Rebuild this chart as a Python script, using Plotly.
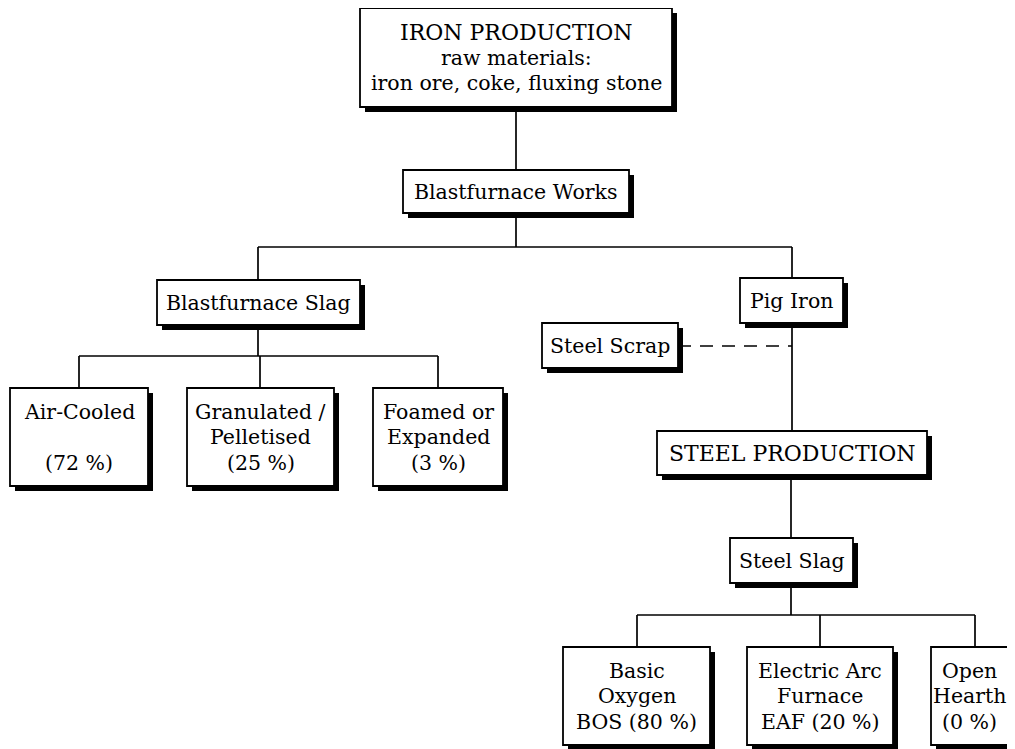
import plotly.graph_objects as go

# Node labels (one entry per line of text)
node_names = ["iron", "bfw", "bfs", "air", "gran", "foam",
              "pig", "scrap", "steel", "sslag", "bos", "eaf", "oh"]
node_labels = [
    ["IRON PRODUCTION", "raw materials:", "iron ore, coke, fluxing stone"],
    ["Blastfurnace Works"],
    ["Blastfurnace Slag"],
    ["Air-Cooled", "", "(72 %)"],
    ["Granulated /", "Pelletised", "(25 %)"],
    ["Foamed or", "Expanded", "(3 %)"],
    ["Pig Iron"],
    ["Steel Scrap"],
    ["STEEL PRODUCTION"],
    ["Steel Slag"],
    ["Basic", "Oxygen", "BOS (80 %)"],
    ["Electric Arc", "Furnace", "EAF (20 %)"],
    ["Open", "Hearth", "(0 %)"],
]

# Box layout in page pixels: x0, x1, y0, y1
box_x0 = [360, 403, 157, 10, 187, 373, 740, 542, 657, 730, 563, 747, 931]
box_x1 = [672, 629, 360, 148, 334, 503, 843, 678, 927, 853, 710, 893, 1030]
box_y0 = [8, 170, 280, 388, 388, 388, 278, 323, 431, 538, 647, 647, 647]
box_y1 = [107, 213, 325, 486, 486, 486, 323, 368, 475, 583, 745, 745, 745]

# Connector segments: x0, y0, x1, y1
link_x0 = [516, 516, 258, 258, 792, 258, 79, 79, 260, 438, 792, 791, 791, 637, 637, 820, 975]
link_y0 = [107, 213, 247, 247, 247, 325, 356, 356, 356, 356, 323, 475, 583, 615, 615, 615, 615]
link_x1 = [516, 516, 792, 258, 792, 258, 438, 79, 260, 438, 792, 791, 791, 975, 637, 820, 975]
link_y1 = [170, 247, 247, 280, 278, 356, 356, 388, 388, 388, 431, 538, 615, 615, 647, 647, 647]

# Dashed link from steel scrap
dash_x = [678, 792]
dash_y = [346, 346]

W, H = 1015, 749
PAD = 8          # default body margin of the html page
SHADOW = 5
LINE_GAP = 25.5

fig = go.Figure()

shapes = []
# connectors first so boxes sit on top
for x0, y0, x1, y1 in zip(link_x0, link_y0, link_x1, link_y1):
    shapes.append(dict(type="line", x0=x0, y0=y0, x1=x1, y1=y1,
                       line=dict(color="black", width=1.7), layer="above"))
shapes.append(dict(type="line", x0=dash_x[0], y0=dash_y[0], x1=dash_x[1], y1=dash_y[1],
                   line=dict(color="black", width=1.7, dash="13px,9px"), layer="above"))

annotations = []
for labels, x0, x1, y0, y1 in zip(node_labels, box_x0, box_x1, box_y0, box_y1):
    # drop shadow
    shapes.append(dict(type="rect", x0=x0 + SHADOW, x1=x1 + SHADOW,
                       y0=y0 + SHADOW, y1=y1 + SHADOW,
                       fillcolor="black", line=dict(width=0), layer="above"))
    shapes.append(dict(type="rect", x0=x0, x1=x1, y0=y0, y1=y1,
                       fillcolor="white", line=dict(color="black", width=1.8),
                       layer="above"))
    # box cut off by the right edge: keep its text inside the page
    cx = (x0 + x1) / 2 if x1 <= W else (x0 + 1007) / 2
    cy = (y0 + y1) / 2
    n = len(labels)
    for i, txt in enumerate(labels):
        if not txt:
            continue
        size = 22 if txt.isupper() and len(txt) > 10 else 20.5
        ty = cy + (i - (n - 1) / 2) * LINE_GAP
        annotations.append(dict(x=cx, y=ty, text=txt, showarrow=False,
                                xanchor="center", yanchor="middle",
                                font=dict(family="DejaVu Serif", size=size,
                                          color="black")))

fig.update_layout(
    width=W - PAD, height=H - PAD,
    margin=dict(t=0, b=0, l=0, r=0),
    paper_bgcolor="white",
    plot_bgcolor="white",
    shapes=shapes,
    annotations=annotations,
    showlegend=False,
)
fig.update_xaxes(range=[PAD, W], visible=False, fixedrange=True)
fig.update_yaxes(range=[H, PAD], visible=False, fixedrange=True)

fig.write_html("out.html")
